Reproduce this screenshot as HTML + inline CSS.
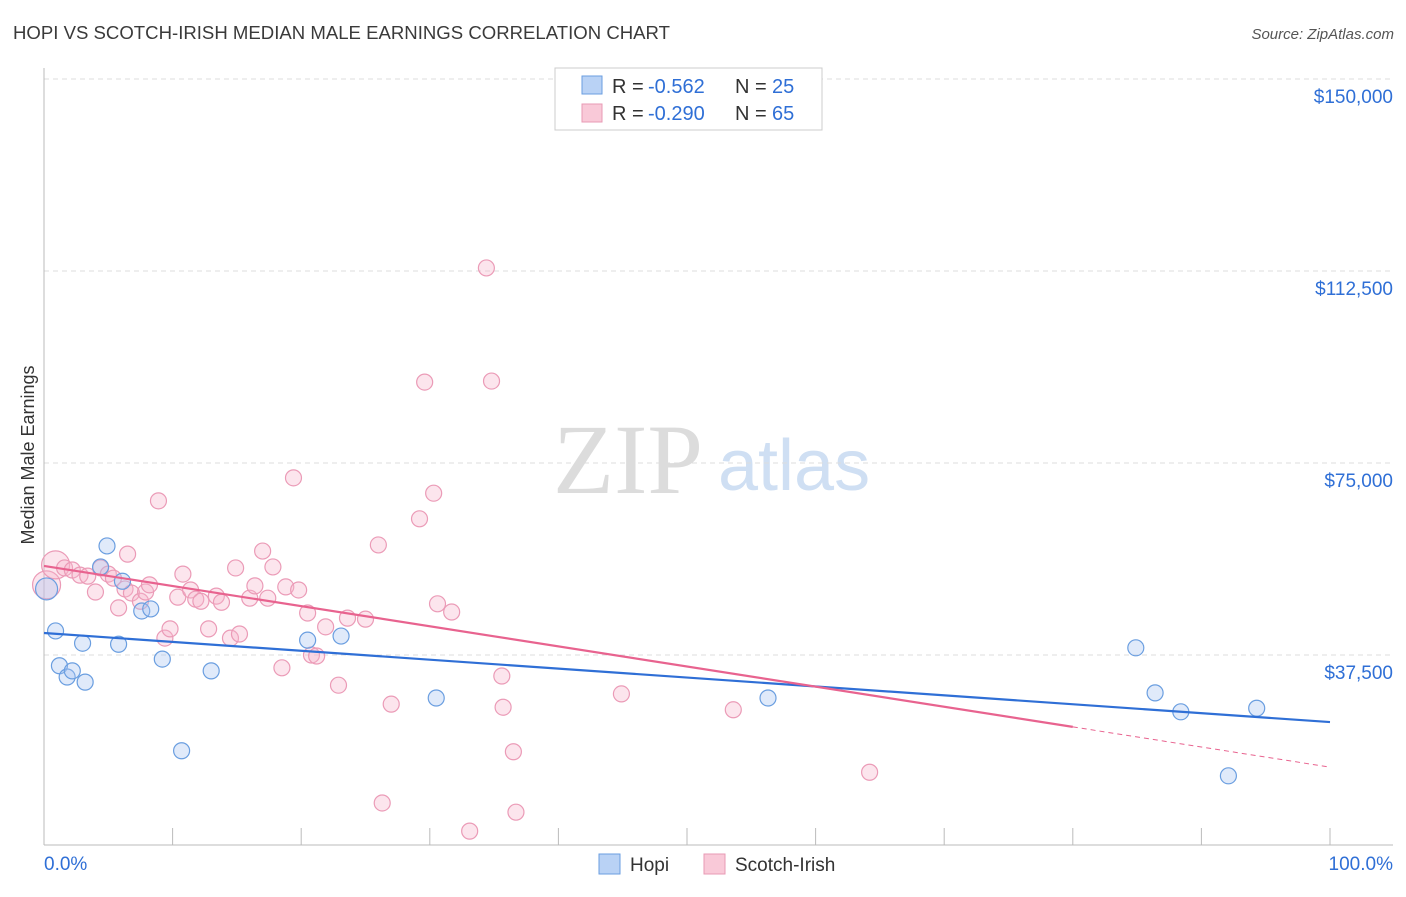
<!DOCTYPE html>
<html><head><meta charset="utf-8">
<style>
body{margin:0;background:#fff;font-family:"Liberation Sans",sans-serif;}
svg text{font-family:"Liberation Sans",sans-serif;}
svg text.serif{font-family:"Liberation Serif",serif;}
</style></head>
<body>
<svg id="chart" width="1406" height="892" xmlns="http://www.w3.org/2000/svg">
<text x="13" y="39" font-size="18" fill="#3a3a3a" textLength="657" lengthAdjust="spacingAndGlyphs">HOPI VS SCOTCH-IRISH MEDIAN MALE EARNINGS CORRELATION CHART</text>
<text x="1394" y="39" font-size="15" fill="#555" text-anchor="end" font-style="italic">Source: ZipAtlas.com</text>
<text class="serif" x="553" y="493" font-size="100" fill="#dcdcdc">ZIP</text>
<text x="718" y="490" font-size="72" fill="#cfdff3">atlas</text>
<text transform="translate(34,455) rotate(-90)" font-size="18" fill="#333" text-anchor="middle">Median Male Earnings</text>
<g id="grid"></g>
<g id="axes"></g>
<g id="marks"></g>
<g>
<rect x="555" y="68" width="267" height="62" fill="#fff" stroke="#ccc"/>
<rect x="582" y="76" width="20" height="18" fill="#b9d2f5" stroke="#6a9ee0"/>
<text x="612" y="93" font-size="20" fill="#333">R =</text>
<text x="648" y="93" font-size="20" fill="#2f6fd6">-0.562</text>
<text x="735" y="93" font-size="20" fill="#333">N =</text>
<text x="772" y="93" font-size="20" fill="#2f6fd6">25</text>
<rect x="582" y="104" width="20" height="18" fill="#f9c9d8" stroke="#e89ab4"/>
<text x="612" y="120" font-size="20" fill="#333">R =</text>
<text x="648" y="120" font-size="20" fill="#2f6fd6">-0.290</text>
<text x="735" y="120" font-size="20" fill="#333">N =</text>
<text x="772" y="120" font-size="20" fill="#2f6fd6">65</text>
</g>
<g>
<rect x="599" y="854" width="21" height="20" fill="#b9d2f5" stroke="#6a9ee0"/>
<text x="630" y="871" font-size="19" fill="#333">Hopi</text>
<rect x="704" y="854" width="21" height="20" fill="#f9c9d8" stroke="#e89ab4"/>
<text x="735" y="871" font-size="19" fill="#333">Scotch-Irish</text>
</g>
</svg>
<script>
const yTicks=[37500,75000,112500,150000];
const yTickLabels=["$37,500","$75,000","$112,500","$150,000"];
const xTickLabels=["0.0%","100.0%"];
const hopiX=[0.2,0.9,1.2,1.8,2.2,3.2,3.0,4.4,4.9,5.8,6.1,7.6,8.3,9.2,10.7,13.0,20.5,23.1,30.5,56.3,84.9,86.4,88.4,92.1,94.3];
const hopiY=[50.4,42.2,35.4,33.2,34.4,32.2,39.8,54.7,58.8,39.6,51.9,46.1,46.5,36.7,18.8,34.4,40.4,41.2,29.1,29.1,38.9,30.1,26.4,13.9,27.1];
const scotX=[0.2,0.9,1.6,2.2,2.8,3.4,4.0,4.4,5.0,5.4,5.8,6.3,6.5,6.8,7.5,7.9,8.2,8.9,9.4,9.8,10.4,10.8,11.4,11.8,12.2,12.8,13.4,13.8,14.5,14.9,15.2,16.0,16.4,17.0,17.4,17.8,18.5,18.8,19.4,19.8,20.5,20.8,21.2,21.9,22.9,23.6,25.0,26.0,26.3,27.0,29.2,29.6,30.3,30.6,31.7,33.1,34.4,34.8,35.6,35.7,36.5,36.7,44.9,53.6,64.2];
const scotY=[51.2,55.1,54.5,54.1,53.1,52.9,49.8,54.5,53.3,52.5,46.7,50.4,57.2,49.6,48.0,49.8,51.2,67.6,40.8,42.6,48.8,53.3,50.2,48.4,48.0,42.6,49.0,47.8,40.8,54.5,41.6,48.6,51.0,57.8,48.6,54.7,35.0,50.8,72.1,50.2,45.7,37.5,37.3,43.0,31.6,44.7,44.5,59.0,8.6,27.9,64.1,90.8,69.1,47.5,45.9,3.1,113.1,91.0,33.4,27.3,18.6,6.8,29.9,26.8,14.6];
const hopiTrend=[41.8,24.4];
const scotTrend=[54.9,15.6];
const scotSolidEnd=80;

const NS="http://www.w3.org/2000/svg";
const xs=p=>44+p*12.86;
const ys=v=>847-v*1000/37500*192;
function mk(tag,attrs,parent){const e=document.createElementNS(NS,tag);for(const k in attrs)e.setAttribute(k,attrs[k]);parent.appendChild(e);return e;}
const grid=document.getElementById('grid'),axes=document.getElementById('axes'),marks=document.getElementById('marks');
yTicks.forEach((t,i)=>{
  const l=mk('line',{x1:44,x2:1393,y1:ys(t/1000),y2:ys(t/1000),stroke:'#ddd','stroke-dasharray':'5,4'},grid);
  
  
  const tx=mk('text',{x:1393,y:ys(t/1000)+24,'font-size':19,fill:'#2f6fd6','text-anchor':'end'},grid);
  tx.textContent=yTickLabels[i];
  
  
});
const tl=mk('line',{x1:44,x2:1393,y1:79,y2:79,stroke:'#ddd','stroke-dasharray':'5,4'},grid);


const ya=mk('line',{x1:44,x2:44,y1:68,y2:845,stroke:'#bbb'},axes);


const xa=mk('line',{x1:44,x2:1393,y1:845,y2:845,stroke:'#bbb'},axes);


for(let i=1;i<=10;i++){
  const t=mk('line',{x1:xs(i*10),x2:xs(i*10),y1:828,y2:845,stroke:'#bbb'},axes);
  
  
}
const xl0=mk('text',{x:44,y:870,'font-size':19,fill:'#2f6fd6'},axes);xl0.textContent=xTickLabels[0];


const xl1=mk('text',{x:1393,y:870,'font-size':19,fill:'#2f6fd6','text-anchor':'end'},axes);xl1.textContent=xTickLabels[1];



scotX.forEach((x,i)=>{
  const big=i<2;
  const c=mk('circle',{cx:xs(x),cy:ys(scotY[i]),r:big?14:8,fill:'rgba(246,180,202,0.35)',stroke:'#eb9bb7','stroke-width':1.2},marks);
  
  
});
hopiX.forEach((x,i)=>{
  const c=mk('circle',{cx:xs(x),cy:ys(hopiY[i]),r:i==0?11:8,fill:'rgba(165,195,240,0.35)',stroke:'#6a9ee0','stroke-width':1.2},marks);
  
  
});
const hl=mk('line',{x1:xs(0),y1:ys(hopiTrend[0]),x2:xs(100),y2:ys(hopiTrend[1]),stroke:'#2f6fd6','stroke-width':2.2},marks);


const sAt=p=>scotTrend[0]+(scotTrend[1]-scotTrend[0])*p/100;
const sl=mk('line',{x1:xs(0),y1:ys(sAt(0)),x2:xs(scotSolidEnd),y2:ys(sAt(scotSolidEnd)),stroke:'#e8638f','stroke-width':2.2},marks);


const sd=mk('line',{x1:xs(scotSolidEnd),y1:ys(sAt(scotSolidEnd)),x2:xs(100),y2:ys(sAt(100)),stroke:'#e8638f','stroke-width':1,'stroke-dasharray':'5,4'},marks);


</script>
</body></html>
